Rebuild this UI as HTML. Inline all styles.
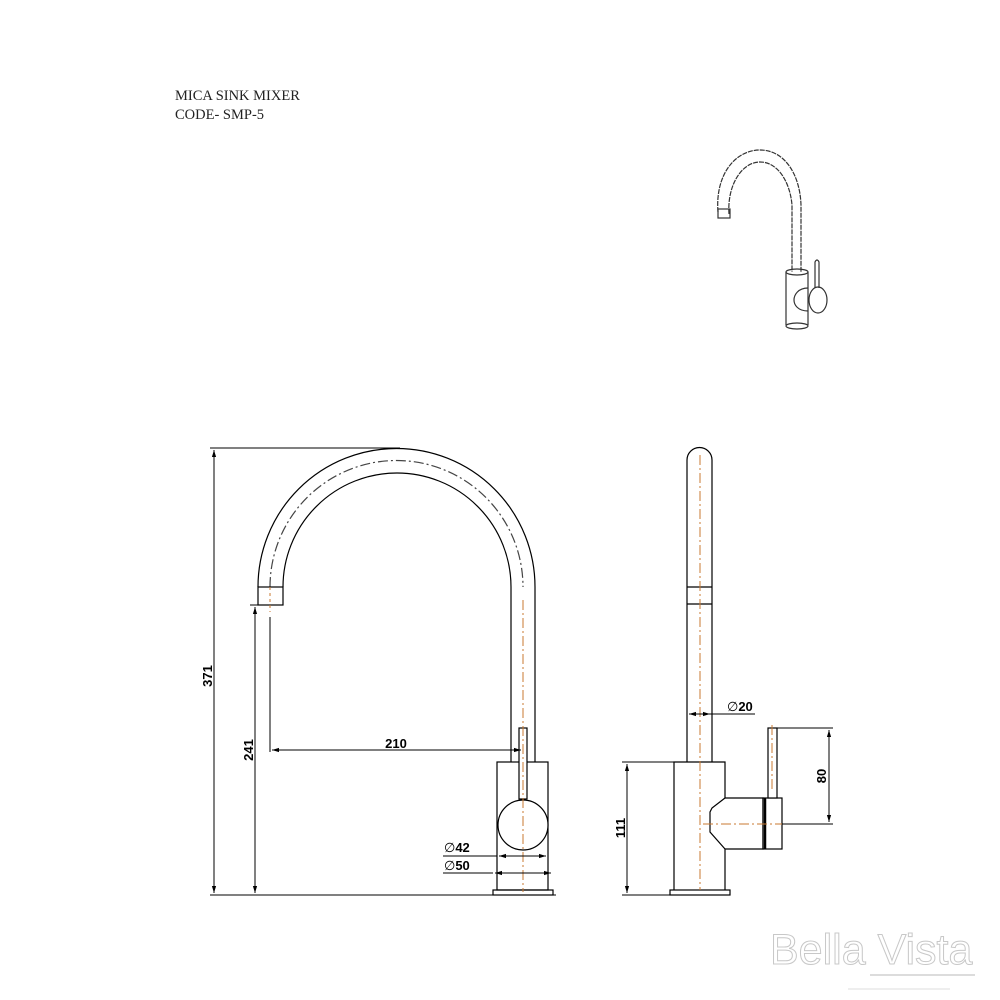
<!DOCTYPE html>
<html><head><meta charset="utf-8"><style>
html,body{margin:0;padding:0;background:#fff;}
svg{display:block;}
</style></head><body>
<svg width="1000" height="1000" viewBox="0 0 1000 1000" xmlns="http://www.w3.org/2000/svg">
<defs>
<marker id="a" viewBox="0 0 10 10" refX="10" refY="5" markerWidth="7" markerHeight="7" orient="auto-start-reverse" markerUnits="userSpaceOnUse"><path d="M0,2 L10,5 L0,8z" fill="#000"/></marker>
</defs>
<rect width="1000" height="1000" fill="#fff"/>
<text x="175" y="100" font-family="Liberation Serif, serif" font-size="14.5" fill="#222">MICA SINK MIXER</text>
<text x="175" y="119" font-family="Liberation Serif, serif" font-size="14.5" fill="#222">CODE- SMP-5</text>

<!-- thumbnail -->
<g fill="none" stroke="#333" stroke-width="1.2">
<path d="M718,212 C715,175 735,150 760,150 C785,150 800,175 801,205 L801,272" stroke-dasharray="5,1"/>
<path d="M729,214 C727,185 742,162 760,162 C778,162 790,182 792,205 L792,272" stroke-dasharray="5,1"/>
<rect x="718" y="209" width="12" height="9"/>
<path d="M786,272 L786,325 M808,272 L808,325"/>
<ellipse cx="797" cy="272" rx="11" ry="3"/>
<ellipse cx="797" cy="326" rx="11" ry="3"/>
<path d="M808,288 C798,288 794,295 794,300 C794,305 798,311 808,311"/>
<ellipse cx="818" cy="300" rx="9" ry="13"/>
<path d="M815,288 L815,262 Q817,258 819,262 L819,288"/>
</g>

<!-- front view -->
<g fill="none" stroke="#000" stroke-width="1.2">
<path d="M258,587 A138.5,138.5 0 0 1 535,587"/>
<path d="M283,587 A114,114 0 0 1 511,587"/>
<path d="M270,587 A126,126 0 0 1 523,587" stroke="#444" stroke-dasharray="10,3,2,3"/>
<rect x="258" y="587" width="25" height="18"/>
<path d="M511,587 L511,762 M535,587 L535,762"/>
<rect x="497" y="762" width="51" height="128"/>
<rect x="493" y="890" width="60" height="5"/>
<rect x="519" y="728" width="8" height="71" fill="#fff"/>
<circle cx="523" cy="825" r="25" fill="#fff"/>
</g>
<path d="M523,600 L523,892" stroke="#c87830" stroke-width="1" stroke-dasharray="10,3,2,3"/>
<path d="M270,587 L270,612" stroke="#c87830" stroke-width="1" stroke-dasharray="3,3"/>
<g stroke="#000" stroke-width="1" fill="none">
<path d="M210,448 L400,448"/>
<path d="M214,450 L214,893" marker-start="url(#a)" marker-end="url(#a)"/>
<path d="M210,895 L556,895"/>
<path d="M250,605 L258,605"/>
<path d="M255,607 L255,893" marker-start="url(#a)" marker-end="url(#a)"/>
<path d="M270,617 L270,752"/>
<path d="M272,750 L521,750" marker-start="url(#a)" marker-end="url(#a)"/>
<path d="M443,856 L497,856"/>
<path d="M499,856 L546,856" marker-start="url(#a)" marker-end="url(#a)"/>
<path d="M443,873 L493,873"/>
<path d="M495,873 L551,873" marker-start="url(#a)" marker-end="url(#a)"/>
</g>
<g font-family="Liberation Sans, sans-serif" font-weight="bold" font-size="13" fill="#000">
<text x="396" y="748" text-anchor="middle">210</text>
<text transform="translate(212,676) rotate(-90)" text-anchor="middle">371</text>
<text transform="translate(253,750) rotate(-90)" text-anchor="middle">241</text>
<text x="444" y="852" font-weight="normal">∅<tspan font-weight="bold">42</tspan></text>
<text x="444" y="870" font-weight="normal">∅<tspan font-weight="bold">50</tspan></text>
</g>

<!-- side view -->
<g fill="none" stroke="#000" stroke-width="1.2">
<path d="M687,762 L687,460 A12.5,12.5 0 0 1 712,460 L712,762"/>
<path d="M687,587 L712,587 M687,604 L712,604"/>
<path d="M674,890 L674,762 L725,762 L725,798 L763,798 L763,849 L725,849 L725,890"/>
<path d="M725,798 L712,808 L710,812 L710,832 L725,849" fill="#fff"/>
<rect x="763" y="798" width="19" height="51" fill="#fff"/>
<path d="M765,798 L765,849" stroke-width="2.5"/>
<rect x="768" y="728" width="9" height="70" fill="#fff"/>
<rect x="670" y="890" width="60" height="5"/>
</g>
<path d="M700,455 L700,890" stroke="#c87830" stroke-width="1" stroke-dasharray="10,3,2,3"/>
<path d="M703,824 L782,824" stroke="#c87830" stroke-width="1" stroke-dasharray="10,3,2,3"/>
<path d="M772,725 L772,790" stroke="#c87830" stroke-width="1" stroke-dasharray="10,3,2,3"/>
<g stroke="#000" stroke-width="1" fill="none">
<path d="M622,762 L674,762 M622,895 L730,895"/>
<path d="M627,764 L627,893" marker-start="url(#a)" marker-end="url(#a)"/>
<path d="M777,728 L833,728 M782,824 L833,824"/>
<path d="M829,730 L829,822" marker-start="url(#a)" marker-end="url(#a)"/>
<path d="M689,714 L710,714" marker-start="url(#a)" marker-end="url(#a)"/>
<path d="M710,714 L755,714"/>
</g>
<g font-family="Liberation Sans, sans-serif" font-weight="bold" font-size="13" fill="#000">
<text transform="translate(625,828) rotate(-90)" text-anchor="middle">111</text>
<text transform="translate(826,776) rotate(-90)" text-anchor="middle">80</text>
<text x="727" y="711" font-weight="normal">∅<tspan font-weight="bold">20</tspan></text>
</g>

<!-- logo -->
<text x="770" y="964" font-family="Liberation Sans, sans-serif" font-size="43" fill="#fff" stroke="#c8c8c8" stroke-width="1">Bella Vista</text>
<path d="M870,975 L975,975" stroke="#c8c8c8" stroke-width="1.2"/>
<path d="M848,989 L950,989" stroke="#dcdcdc" stroke-width="1"/>
</svg>
</body></html>
